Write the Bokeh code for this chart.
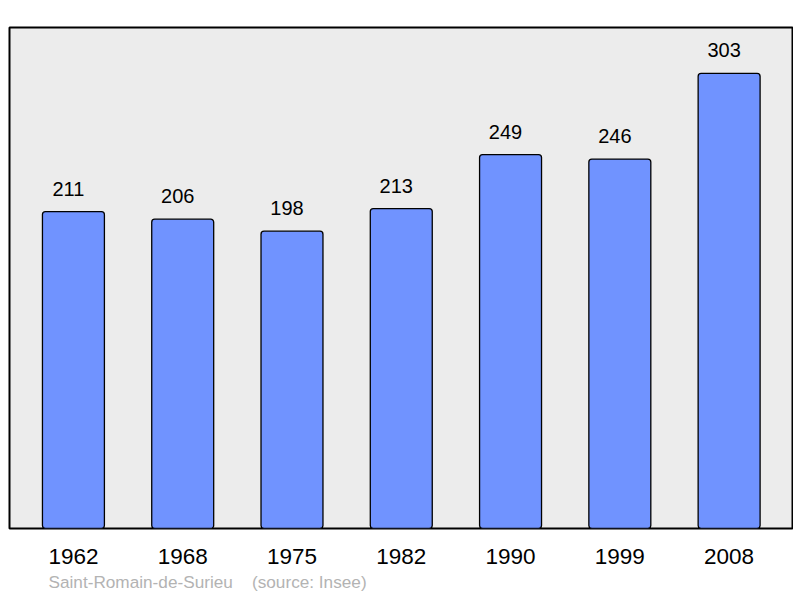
from bokeh.plotting import figure
from bokeh.models import Range1d, ColumnDataSource, Title
from bokeh.core.properties import value
from bokeh.embed import file_html
from bokeh.resources import INLINE

years = ["1962", "1968", "1975", "1982", "1990", "1999", "2008"]
population = [211, 206, 198, 213, 249, 246, 303]
idx = list(range(len(years)))

src = ColumnDataSource(dict(x=idx, top=population, label=[str(v) for v in population]))

p = figure(width=793, height=598, output_backend="svg", toolbar_location=None,
           x_range=Range1d(-0.585, 6.58), y_range=Range1d(0, 333.6),
           min_border_left=9, min_border_right=1, min_border_top=27, min_border_bottom=70)
p.background_fill_color = "#ececec"
p.border_fill_color = "white"
p.outline_line_color = "black"
p.outline_line_width = 2
p.grid.visible = False
p.yaxis.visible = False

p.vbar(x="x", top="top", width=0.567, bottom=0, source=src,
       fill_color="#7093ff", line_color="black", line_width=1.3, border_radius=3)
p.text(x="x", y="top", text="label", source=src, text_align="center",
       text_baseline="alphabetic", x_offset=-5, y_offset=-23, text_font_size="20px",
       text_font=value("Liberation Sans"), text_color="black")

xa = p.xaxis[0]
xa.ticker = idx
xa.major_label_overrides = {i: y for i, y in zip(idx, years)}
xa.axis_line_color = None
xa.major_tick_line_color = None
xa.minor_tick_line_color = None
xa.major_label_standoff = 14
xa.major_label_text_font = "Liberation Sans"
xa.major_label_text_font_size = "22.5px"
xa.major_label_text_color = "black"

t = Title(text="Saint-Romain-de-Surieu\u00a0\u00a0\u00a0\u00a0(source: Insee)", align="left", offset=39,
          text_font="Liberation Sans", text_font_size="17.2px", text_font_style="normal",
          text_color="#b3b3b3", standoff=7)
p.add_layout(t, "below")

open("out.html", "w").write(file_html(p, INLINE))
